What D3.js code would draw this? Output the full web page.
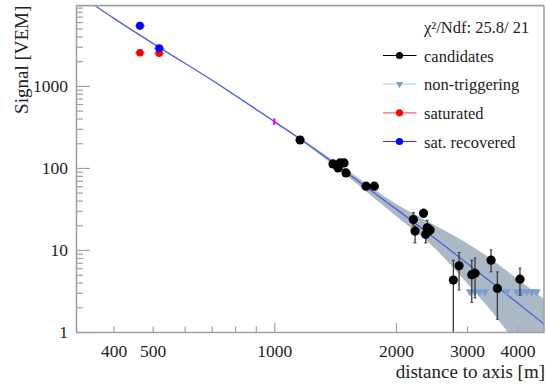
<!DOCTYPE html>
<html>
<head>
<meta charset="utf-8">
<script src="https://cdn.jsdelivr.net/npm/d3@7"></script>
<style>
    html, body { margin: 0; padding: 0; background: #fff; }
    svg, svg text { font-family: "Liberation Serif", "Times New Roman", Times, "DejaVu Serif", serif !important; }
</style>
</head>
<body>
<svg id="chart" width="547" height="387"></svg>
<script>
// ----------------------------------------------------------------------------
// Data
// ----------------------------------------------------------------------------

// candidate stations: distance [m], signal [VEM], error bar low / high
const candR  = [1158, 1397, 1438, 1454, 1488, 1505, 1687, 1768, 2209, 2230, 2340, 2370, 2390, 2430, 2774, 2866, 3081, 3139, 3439, 3565, 4055];
const candS  = [219, 112, 100, 115, 115, 87, 60, 60, 23.5, 17, 28, 15.5, 18.6, 17.5, 4.3, 6.4, 5.0, 5.2, 7.5, 3.4, 4.4];
const candLo = [209, 104, 93, 107, 107, 81, 55, 55, 20, 12.2, 25, 12.2, 15, 15.3, 0.9, 3.25, 2.3, 2.6, 5.4, 1.43, 2.8];
const candHi = [229, 120, 107, 123, 123, 93, 65, 65, 28.5, 19.5, 31.5, 18, 23, 20, 7.5, 9.3, 7.5, 8.0, 10, 5.4, 6.0];

// non-triggering stations (upper limits)
const nonTrigR = [3050, 3130, 3220, 3320, 3760, 3980, 4100, 4220, 4340, 4460];
const nonTrigS = [3.1, 3.1, 3.1, 3.1, 3.1, 3.1, 3.1, 3.1, 3.1, 3.1];

// saturated stations
const satR = [465, 519];
const satS = [2540, 2500];

// saturation-recovered stations
const recR  = [465, 519];
const recS  = [5400, 2880];
const recLo = [4800, 2700];
const recHi = [6000, 3060];

// LDF fit line and its uncertainty band
const fitR = [330, 360, 400, 519, 700, 1000, 1200, 1500, 1793, 2000, 2500, 3000, 3500, 4000, 4700];
const fitS = [12500, 9500, 6700, 2950, 1180, 367, 200, 90, 47, 31.7, 13.8, 6.9, 3.8, 2.26, 1.2];

const bandR  = [700, 1000, 1200, 1500, 2000, 2500, 3000, 3500, 4000, 4700];
const bandHi = [1200, 377, 207, 98, 36.5, 19.9, 12.1, 7.3, 4.4, 2.45];
const bandLo = [1160, 357, 193, 82.7, 26, 10.4, 3.94, 1.64, 0.7, 0.3];

// S(1000) marker: distance, value, low, high
const s1000 = [1000, 367, 336, 400];

// axis ticks
const xTicks  = [400, 500, 600, 700, 800, 900, 1000, 2000, 3000, 4000];
const xLabels = [400, 500, 1000, 2000, 3000, 4000];
const yMajor  = [1, 10, 100, 1000];
const yMinor  = [2, 3, 4, 5, 6, 7, 8, 9, 20, 30, 40, 50, 60, 70, 80, 90,
                 200, 300, 400, 500, 600, 700, 800, 900, 2000, 3000, 4000, 5000, 6000, 7000, 8000, 9000];

// legend
const chiText = "χ²/Ndf: 25.8/ 21";
const legendLabels = ["candidates", "non-triggering", "saturated", "sat. recovered"];

// ----------------------------------------------------------------------------
// Drawing
// ----------------------------------------------------------------------------

const FONT = "'Liberation Serif', 'Times New Roman', Times, serif";

const svg = d3.select("#chart");
const frame = { left: 76, right: 544, top: 5.7, bottom: 332 };

const x = d3.scaleLog().domain([323, 4650]).range([frame.left, frame.right]);
const y = d3.scaleLog().domain([1, 9500]).range([frame.bottom, frame.top]);

const frameColor = "#a0a0a0";
const textColor = "#222";

svg.append("defs").append("clipPath")
    .attr("id", "plot-clip")
    .append("rect")
    .attr("x", frame.left)
    .attr("y", frame.top)
    .attr("width", frame.right - frame.left)
    .attr("height", frame.bottom - frame.top);

const plot = svg.append("g").attr("clip-path", "url(#plot-clip)");

// Band
const bandData = bandR.map((r, i) => ({ r, lo: bandLo[i], hi: bandHi[i] }));
const band = d3.area()
    .x(d => x(d.r))
    .y0(d => y(d.lo))
    .y1(d => y(d.hi))
    .curve(d3.curveMonotoneX);

plot.append("path")
    .datum(bandData)
    .attr("fill", "#aab9c5")
    .attr("d", band);

// Fit line
const fitData = fitR.map((r, i) => ({ r, s: fitS[i] }));
plot.append("path")
    .datum(fitData)
    .attr("fill", "none")
    .attr("stroke", "#4d5fe0")
    .attr("stroke-width", 1.3)
    .attr("d", d3.line().x(d => x(d.r)).y(d => y(d.s)).curve(d3.curveMonotoneX));

// S(1000) marker
plot.append("line")
    .attr("x1", x(s1000[0])).attr("x2", x(s1000[0]))
    .attr("y1", y(s1000[2])).attr("y2", y(s1000[3]))
    .attr("stroke", "#ff00ff")
    .attr("stroke-width", 2.5);

// Non-triggering
const tri = d3.symbol().type(d3.symbolTriangle).size(30);
plot.selectAll(".nontrig")
    .data(nonTrigR.map((r, i) => ({ r, s: nonTrigS[i] })))
    .enter()
    .append("path")
    .attr("transform", d => `translate(${x(d.r)},${y(d.s)}) rotate(180)`)
    .attr("fill", "#7d9bd6")
    .attr("d", tri);

// Candidates with error bars
const cand = candR.map((r, i) => ({ r, s: candS[i], lo: candLo[i], hi: candHi[i] }));
const errG = plot.append("g").attr("stroke", "#3a3a3a").attr("stroke-width", 1.3);
cand.forEach(d => {
    errG.append("line")
        .attr("x1", x(d.r)).attr("x2", x(d.r))
        .attr("y1", y(d.lo)).attr("y2", y(d.hi));
    [d.lo, d.hi].forEach(v => {
        errG.append("line")
            .attr("x1", x(d.r) - 1.5).attr("x2", x(d.r) + 1.5)
            .attr("y1", y(v)).attr("y2", y(v))
            .attr("stroke-width", 1);
    });
});
plot.selectAll(".cand")
    .data(cand)
    .enter()
    .append("circle")
    .attr("cx", d => x(d.r))
    .attr("cy", d => y(d.s))
    .attr("r", 4.6)
    .attr("fill", "#000");

// Saturated
satR.forEach((r, i) => {
    plot.append("line")
        .attr("x1", x(r) - 5).attr("x2", x(r) + 5)
        .attr("y1", y(satS[i])).attr("y2", y(satS[i]))
        .attr("stroke", "#ff5050").attr("stroke-width", 1);
});
plot.selectAll(".sat")
    .data(satR.map((r, i) => ({ r, s: satS[i] })))
    .enter()
    .append("circle")
    .attr("cx", d => x(d.r))
    .attr("cy", d => y(d.s))
    .attr("r", 3.8)
    .attr("fill", "#ff0000");

// Saturation recovered
recR.forEach((r, i) => {
    plot.append("line")
        .attr("x1", x(r)).attr("x2", x(r))
        .attr("y1", y(recLo[i])).attr("y2", y(recHi[i]))
        .attr("stroke", "#4040ff").attr("stroke-width", 1);
    plot.append("line")
        .attr("x1", x(r) - 5).attr("x2", x(r) + 5)
        .attr("y1", y(recS[i])).attr("y2", y(recS[i]))
        .attr("stroke", "#4040ff").attr("stroke-width", 1);
});
plot.selectAll(".rec")
    .data(recR.map((r, i) => ({ r, s: recS[i] })))
    .enter()
    .append("circle")
    .attr("cx", d => x(d.r))
    .attr("cy", d => y(d.s))
    .attr("r", 4)
    .attr("fill", "#0000ff");

// Axes
const xAxis = svg.append("g")
    .attr("transform", `translate(0,${frame.bottom})`)
    .call(d3.axisBottom(x)
        .tickValues(xTicks)
        .tickSize(0)
        .tickFormat(d => xLabels.includes(d) ? d : ""));
xAxis.attr("font-family", FONT);
xAxis.select(".domain").attr("stroke", frameColor).attr("stroke-width", 1.6);
xAxis.selectAll(".tick line")
    .attr("stroke", frameColor)
    .attr("stroke-width", 1.2)
    .attr("y2", d => (d === 1000 || d === 2000) ? -9 : -5.5);
xAxis.selectAll(".tick text")
    .attr("y", 13)
    .attr("fill", textColor)
    .attr("font-family", FONT)
    .attr("font-size", 17.5);

const yAxisMinor = svg.append("g")
    .attr("transform", `translate(${frame.left},0)`)
    .call(d3.axisLeft(y).tickValues(yMinor).tickSize(0).tickFormat(""));
yAxisMinor.select(".domain").remove();
yAxisMinor.selectAll(".tick line")
    .attr("x2", 7)
    .attr("stroke", frameColor)
    .attr("stroke-width", 1.2);

const yAxis = svg.append("g")
    .attr("transform", `translate(${frame.left},0)`)
    .call(d3.axisLeft(y).tickValues(yMajor).tickSize(0).tickFormat(d3.format("d")));
yAxis.attr("font-family", FONT);
yAxis.select(".domain").attr("stroke", frameColor).attr("stroke-width", 1.6);
yAxis.selectAll(".tick line")
    .attr("x2", 14)
    .attr("stroke", frameColor)
    .attr("stroke-width", 1.2);
yAxis.selectAll(".tick text")
    .attr("x", -8)
    .attr("fill", textColor)
    .attr("font-family", FONT)
    .attr("font-size", 17.5);

// Top and right frame
svg.append("line")
    .attr("x1", frame.left).attr("x2", frame.right)
    .attr("y1", frame.top).attr("y2", frame.top)
    .attr("stroke", frameColor).attr("stroke-width", 1.8);
svg.append("line")
    .attr("x1", frame.right).attr("x2", frame.right)
    .attr("y1", frame.top).attr("y2", frame.bottom)
    .attr("stroke", frameColor).attr("stroke-width", 1.6);

// Axis titles
svg.append("text")
    .attr("transform", `translate(28,${frame.top}) rotate(-90)`)
    .attr("text-anchor", "end")
    .attr("fill", textColor)
    .attr("font-family", FONT)
    .attr("font-size", 19)
    .text("Signal [VEM]");

svg.append("text")
    .attr("x", 545)
    .attr("y", 378)
    .attr("text-anchor", "end")
    .attr("fill", textColor)
    .attr("font-family", FONT)
    .attr("font-size", 19)
    .text("distance to axis [m]");

// Legend
const legend = svg.append("g")
    .attr("font-family", FONT)
    .attr("font-size", 16.5);

legend.append("text")
    .attr("x", 424)
    .attr("y", 33)
    .attr("fill", textColor)
    .text(chiText);

const legendStyle = [
    { line: "#000", marker: "#000", shape: "circle" },
    { line: "#c4d2ef", marker: "#7d9bd6", shape: "triangle" },
    { line: "#ff6060", marker: "#ff0000", shape: "circle" },
    { line: "#3030ff", marker: "#0000ff", shape: "circle" }
];
const legendRowY = d3.scaleLinear().domain([0, 3]).range([55.5, 141.5]);

legendLabels.forEach((label, i) => {
    const cy = legendRowY(i);
    const st = legendStyle[i];
    legend.append("line")
        .attr("x1", 383).attr("x2", 416.5)
        .attr("y1", cy).attr("y2", cy)
        .attr("stroke", st.line)
        .attr("stroke-width", 1.2);
    if (st.shape === "circle") {
        legend.append("circle")
            .attr("cx", 399.5).attr("cy", cy).attr("r", 3.6)
            .attr("fill", st.marker);
    } else {
        legend.append("path")
            .attr("transform", `translate(399.5,${cy}) rotate(180)`)
            .attr("fill", st.marker)
            .attr("d", d3.symbol().type(d3.symbolTriangle).size(22));
    }
    legend.append("text")
        .attr("x", 424)
        .attr("y", cy + 6)
        .attr("fill", textColor)
        .text(label);
});
</script>
</body>
</html>
